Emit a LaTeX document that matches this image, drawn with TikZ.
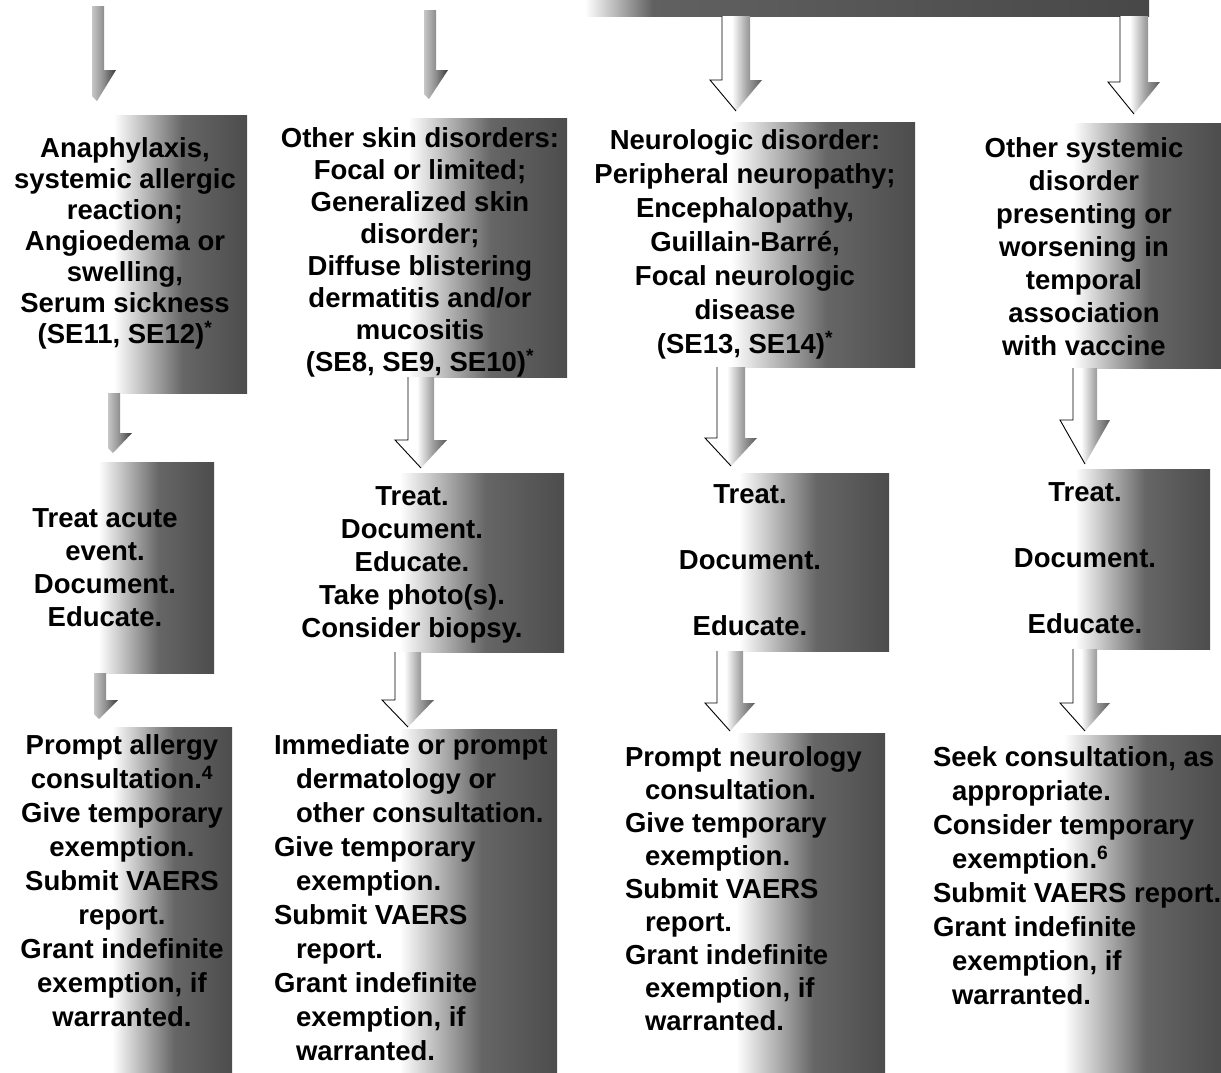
\documentclass[tikz,border=0pt]{standalone}
\usepackage{fontspec}
\setmainfont{Liberation Sans}
\pgfdeclarehorizontalshading{boxshade}{100bp}{color(0bp)=(white); color(48bp)=(white); color(62bp)=(black!60); color(75bp)=(black!70); color(100bp)=(black!70)}
\pgfdeclarehorizontalshading{barshade}{100bp}{color(0bp)=(white); color(25bp)=(white); color(31bp)=(black!62); color(75bp)=(black!72); color(100bp)=(black!72)}
\pgfdeclarehorizontalshading{arrshade}{100bp}{color(0bp)=(white); color(46bp)=(white); color(60bp)=(black!35); color(75bp)=(black!65); color(100bp)=(black!65)}
\pgfdeclarehorizontalshading{thinshade}{100bp}{color(0bp)=(black!20); color(25bp)=(black!22); color(50bp)=(black!45); color(75bp)=(black!78); color(100bp)=(black!78)}
\tikzset{
  gbox/.style={inner sep=0pt, outer sep=0pt, anchor=north west, shading=boxshade, draw=none},
  txt/.style={inner sep=0pt, outer sep=0pt, text=black},
}
\newcommand\fs[1]{\bfseries\fontsize{27.5}{#1}\selectfont}
% hollow block arrow: cx, ytop, yhead, ytip, shaft half width, head half width
\newcommand\hollowarrow[6]{%
  \shade[shading=arrshade] (#1-#5,#2) -- (#1+#5,#2) -- (#1+#5,#3) -- (#1+#6,#3) -- (#1,#4) -- (#1-#6,#3) -- (#1-#5,#3) -- cycle;
  \draw[line width=0.9pt, line join=miter] (#1-#5,#2) -- (#1-#5,#3) -- (#1-#6,#3) -- (#1,#4);
}
% thin bent arrow: xleft, ytop, yhead, ytip
\newcommand\thinarrow[4]{%
  \shade[shading=thinshade] (#1,#2) -- (#1+12,#2) -- (#1+12,#3) -- (#1+24,#3) -- (#1+5,#4) -- (#1,#4-5) -- cycle;
}
\begin{document}
\begin{tikzpicture}[x=1pt,y=-1pt]
\useasboundingbox (0,0) rectangle (1221,1072);
\clip (0,0) rectangle (1221,1072);

% top bar (bottom of a box above)
\node[gbox, shading=barshade, minimum width=564pt, minimum height=21pt] (top) at (585,-5) {};

% row 1 boxes
\node[gbox, minimum width=247pt, minimum height=278pt] (b1) at (0,115) {};
\node[gbox, minimum width=294pt, minimum height=259pt] (b2) at (273,118) {};
\node[gbox, minimum width=340pt, minimum height=245pt] (b3) at (575,122) {};
\node[gbox, minimum width=274pt, minimum height=245pt] (b4) at (947,123) {};
% row 2 boxes
\node[gbox, minimum width=214pt, minimum height=211pt] (b5) at (0,462) {};
\node[gbox, minimum width=304pt, minimum height=179pt] (b6) at (260,473) {};
\node[gbox, minimum width=278pt, minimum height=178pt] (b7) at (611,473) {};
\node[gbox, minimum width=250pt, minimum height=180pt] (b8) at (960,469) {};
% row 3 boxes
\node[gbox, minimum width=222pt, minimum height=345pt] (b9) at (10,727) {};
\node[gbox, minimum width=292pt, minimum height=343pt] (b10) at (265,729) {};
\node[gbox, minimum width=275pt, minimum height=339pt] (b11) at (610,733) {};
\node[gbox, minimum width=291pt, minimum height=337pt] (b12) at (930,735) {};

% arrows from the top
\thinarrow{92}{6}{70}{101}
\thinarrow{424}{10}{70}{99}
\hollowarrow{736}{16}{80}{111}{14}{26}
\hollowarrow{1134}{16}{82}{114}{14}{26}
% arrows row 1 -> row 2
\thinarrow{108}{393}{433}{453}
\hollowarrow{421}{377}{440}{468}{13}{26}
\hollowarrow{731}{367}{438}{466}{14}{26}
\hollowarrow{1085}{368}{420}{464}{12}{25}
% arrows row 2 -> row 3
\thinarrow{94}{673}{700}{719}
\hollowarrow{408}{652}{700}{727}{13}{26}
\hollowarrow{730}{651}{703}{731}{13}{25}
\hollowarrow{1085}{649}{703}{731}{12}{25}

% row 1 texts
\node[txt, align=center, anchor=north, font=\fs{31}] (t1) at (125,138)
  {Anaphylaxis,\\systemic allergic\\reaction;\\Angioedema or\\swelling,\\Serum sickness\\(SE11, SE12)\textsuperscript{*}};
\node[txt, align=center, anchor=north, font=\fs{32}] (t2) at (420,128)
  {Other skin disorders:\\Focal or limited;\\Generalized skin\\disorder;\\Diffuse blistering\\dermatitis and/or\\mucositis\\(SE8, SE9, SE10)\textsuperscript{*}};
\node[txt, align=center, anchor=north, font=\fs{34}] (t3) at (745,130)
  {Neurologic disorder:\\Peripheral neuropathy;\\Encephalopathy,\\Guillain-Barré,\\Focal neurologic\\disease\\(SE13, SE14)\textsuperscript{*}};
\node[txt, align=center, anchor=north, font=\fs{33}] (t4) at (1084,138)
  {Other systemic\\disorder\\presenting or\\worsening in\\temporal\\association\\with vaccine};

% row 2 texts
\node[txt, align=center, anchor=north, font=\fs{33}] (t5) at (105,509)
  {Treat acute\\event.\\Document.\\Educate.};
\node[txt, align=center, anchor=north, font=\fs{33}] (t6) at (412,487)
  {Treat.\\Document.\\Educate.\\Take photo(s).\\Consider biopsy.};
\node[txt, align=center, anchor=north, font=\fs{66}] (t7) at (750,485)
  {Treat.\\Document.\\Educate.};
\node[txt, align=center, anchor=north, font=\fs{66}] (t8) at (1085,483)
  {Treat.\\Document.\\Educate.};

% row 3 texts
\node[txt, align=center, anchor=north, font=\fs{34}] (t9) at (122,735)
  {Prompt allergy\\consultation.\textsuperscript{4}\\Give temporary\\exemption.\\Submit VAERS\\report.\\Grant indefinite\\exemption, if\\warranted.};
\node[txt, align=left, anchor=north west, font=\fs{34}] (t10) at (274,735)
  {Immediate or prompt\\\hspace*{22pt}dermatology or\\\hspace*{22pt}other consultation.\\Give temporary\\\hspace*{22pt}exemption.\\Submit VAERS\\\hspace*{22pt}report.\\Grant indefinite\\\hspace*{22pt}exemption, if\\\hspace*{22pt}warranted.};
\node[txt, align=left, anchor=north west, font=\fs{33}] (t11) at (625,747)
  {Prompt neurology\\\hspace*{20pt}consultation.\\Give temporary\\\hspace*{20pt}exemption.\\Submit VAERS\\\hspace*{20pt}report.\\Grant indefinite\\\hspace*{20pt}exemption, if\\\hspace*{20pt}warranted.};
\node[txt, align=left, anchor=north west, font=\fs{34}] (t12) at (933,747)
  {Seek consultation, as\\\hspace*{19pt}appropriate.\\Consider temporary\\\hspace*{19pt}exemption.\textsuperscript{6}\\Submit VAERS report.\\Grant indefinite\\\hspace*{19pt}exemption, if\\\hspace*{19pt}warranted.};
\end{tikzpicture}
\end{document}
